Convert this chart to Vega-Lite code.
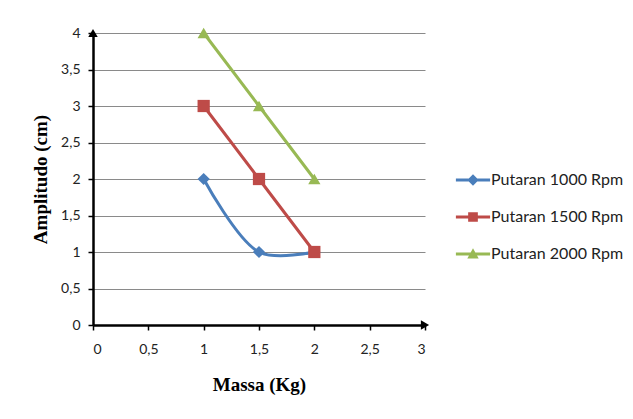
{
  "$schema": "https://vega.github.io/schema/vega-lite/v6.json",
  "width": 332,
  "height": 292,
  "autosize": "none",
  "padding": {"left": 93, "top": 33, "right": 208, "bottom": 94},
  "background": "white",
  "config": {
    "view": {"stroke": null},
    "font": "Lato",
    "axis": {"labelFont": "Lato", "labelFontSize": 14, "labelColor": "#222", "titleFont": "Liberation Serif", "titleFontSize": 19, "titleFontWeight": "bold", "titleColor": "#000", "domainColor": "#000", "domainWidth": 2.5, "tickColor": "#000", "tickWidth": 1.5, "tickSize": 5}
  },
  "datasets": {
    "main": [
      {"massa": 1, "amp": 2, "series": "Putaran 1000 Rpm"},
      {"massa": 1.5, "amp": 1, "series": "Putaran 1000 Rpm"},
      {"massa": 2, "amp": 1, "series": "Putaran 1000 Rpm"},
      {"massa": 1, "amp": 3, "series": "Putaran 1500 Rpm"},
      {"massa": 1.5, "amp": 2, "series": "Putaran 1500 Rpm"},
      {"massa": 2, "amp": 1, "series": "Putaran 1500 Rpm"},
      {"massa": 1, "amp": 4, "series": "Putaran 2000 Rpm"},
      {"massa": 1.5, "amp": 3, "series": "Putaran 2000 Rpm"},
      {"massa": 2, "amp": 2, "series": "Putaran 2000 Rpm"}
    ]
  },
  "encoding": {
    "x": {"field": "massa", "type": "quantitative", "scale": {"domain": [0, 3]},
      "axis": {"title": "Massa (Kg)", "values": [0, 0.5, 1, 1.5, 2, 2.5, 3], "format": "~g", "labelExpr": "replace(datum.label, '.', ',')", "grid": false, "labelPadding": 12, "titlePadding": 19}},
    "y": {"field": "amp", "type": "quantitative", "scale": {"domain": [0, 4]},
      "axis": {"title": "Amplitudo (cm)", "values": [0, 0.5, 1, 1.5, 2, 2.5, 3, 3.5, 4], "format": "~g", "labelExpr": "replace(datum.label, '.', ',')", "grid": true, "gridColor": "#8a8a8a", "gridWidth": 1, "labelPadding": 8, "titlePadding": 10}}
  },
  "layer": [
    {
      "data": {"name": "main"},
      "transform": [{"filter": "datum.series != 'Putaran 1000 Rpm'"}],
      "mark": {"type": "line", "strokeWidth": 3},
      "encoding": {
        "color": {"field": "series", "type": "nominal", "scale": {"domain": ["Putaran 1000 Rpm", "Putaran 1500 Rpm", "Putaran 2000 Rpm"], "range": ["#4A7EBB", "#BE4B48", "#98B954"]},
          "legend": {"title": null, "orient": "none", "legendX": 372, "legendY": 139, "labelFont": "Lato", "labelFontSize": 16, "labelColor": "#222", "rowPadding": 21, "symbolSize": 130, "symbolStrokeWidth": 0, "labelOffset": 10,
            "encode": {"symbols": {"update": {"shape": {"signal": "datum.value == 'Putaran 1000 Rpm' ? 'M-3,-0.27H3V0.27H-3Z M0,-1L1,0L0,1L-1,0Z' : datum.value == 'Putaran 1500 Rpm' ? 'M-3,-0.27H3V0.27H-3Z M-0.85,-0.85H0.85V0.85H-0.85Z' : 'M-3,-0.27H3V0.27H-3Z M0,-1L1,0.8H-1Z'"}, "fill": {"scale": "color", "field": "value"}, "strokeWidth": {"value": 0}}}}}}
      }
    },
    {
      "data": {"name": "main"},
      "transform": [{"filter": "datum.series == 'Putaran 1000 Rpm'"}],
      "mark": {"type": "line", "strokeWidth": 3, "interpolate": "catmull-rom"},
      "encoding": {
        "color": {"field": "series", "type": "nominal"}
      }
    },
    {
      "data": {"name": "main"},
      "transform": [{"filter": "datum.series == 'Putaran 1000 Rpm'"}],
      "mark": {"type": "point", "shape": "diamond", "filled": true, "opacity": 1, "size": 150},
      "encoding": {"color": {"field": "series", "type": "nominal"}}
    },
    {
      "data": {"name": "main"},
      "transform": [{"filter": "datum.series == 'Putaran 1500 Rpm'"}],
      "mark": {"type": "point", "shape": "square", "filled": true, "opacity": 1, "size": 150},
      "encoding": {"color": {"field": "series", "type": "nominal"}}
    },
    {
      "data": {"name": "main"},
      "transform": [{"filter": "datum.series == 'Putaran 2000 Rpm'"}],
      "mark": {"type": "point", "shape": "triangle-up", "filled": true, "opacity": 1, "size": 150},
      "encoding": {"color": {"field": "series", "type": "nominal"}}
    },
    {
      "data": {"values": [{"massa": 3, "amp": 0}]},
      "mark": {"type": "point", "shape": "triangle-right", "filled": true, "color": "#000", "size": 90, "opacity": 1}
    },
    {
      "data": {"values": [{"massa": 0, "amp": 4}]},
      "mark": {"type": "point", "shape": "triangle-up", "filled": true, "color": "#000", "size": 90, "opacity": 1}
    }
  ]
}
